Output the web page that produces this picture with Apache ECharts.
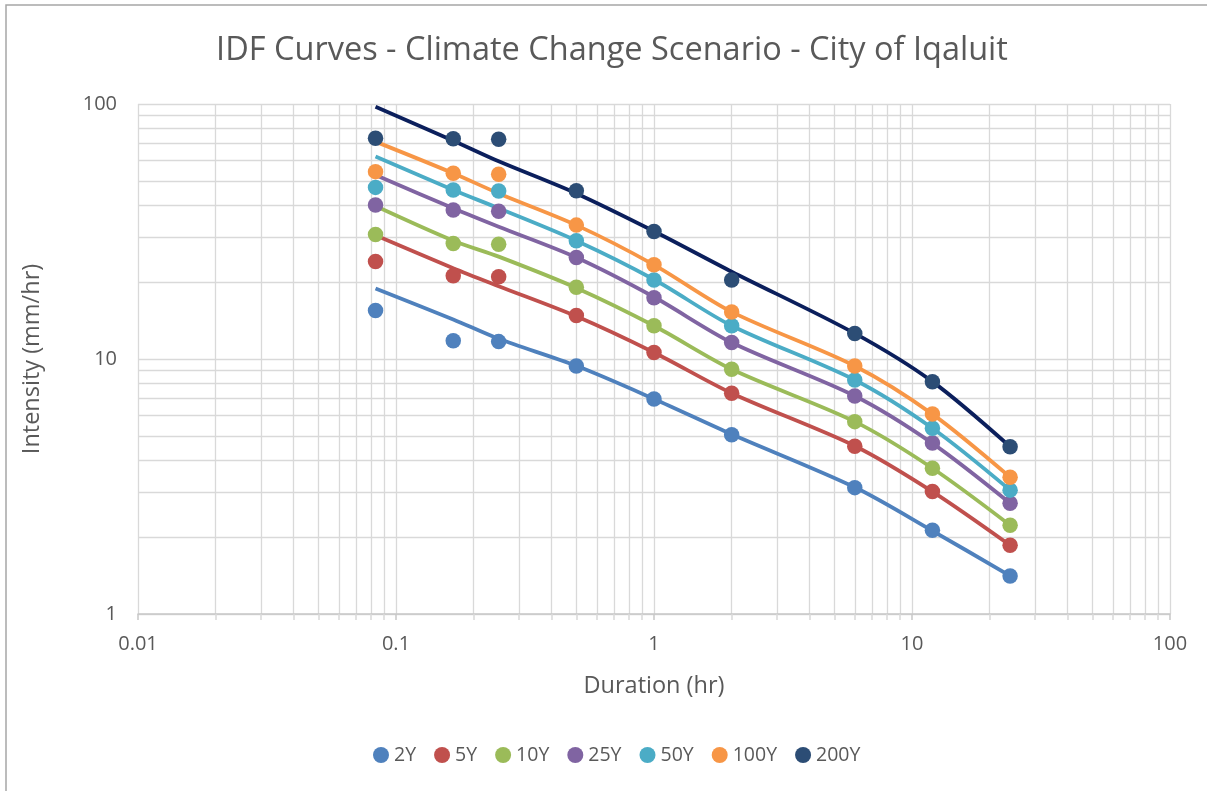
<!DOCTYPE html>
<html>
<head>
<meta charset="utf-8">
<script src="https://cdn.jsdelivr.net/npm/echarts@6/dist/echarts.min.js"></script>
<style>
html,body{margin:0;padding:0;background:#fff;}
#chart{width:1207px;height:791px;}
</style>
</head>
<body>
<div id="chart"></div>
<script>
// Durations (hr)
var durations = [0.0833, 0.1667, 0.25, 0.5, 1, 2, 6, 12, 24];
var seriesNames = ['2Y', '5Y', '10Y', '25Y', '50Y', '100Y', '200Y'];

// Observed intensities (mm/hr) - dots
var obs2Y   = [15.5, 11.8, 11.7, 9.39, 6.97, 5.05, 3.13, 2.13, 1.41];
var obs5Y   = [24.1, 21.2, 21.0, 14.8, 10.6, 7.34, 4.55, 3.02, 1.86];
var obs10Y  = [30.8, 28.4, 28.2, 19.1, 13.5, 9.11, 5.68, 3.73, 2.23];
var obs25Y  = [40.2, 38.4, 38.0, 25.0, 17.4, 11.6, 7.16, 4.68, 2.72];
var obs50Y  = [47.1, 46.0, 45.6, 29.1, 20.4, 13.5, 8.27, 5.35, 3.06];
var obs100Y = [54.3, 53.5, 53.0, 33.5, 23.4, 15.3, 9.39, 6.08, 3.44];
var obs200Y = [73.4, 73.0, 72.7, 45.7, 31.6, 20.4, 12.6, 8.15, 4.53];

// Fitted curves (mm/hr) - lines
var fit2Y   = [18.9, 14.3, 12.0, 9.40, 6.97, 5.07, 3.14, 2.12, 1.41];
var fit5Y   = [30.6, 22.7, 19.3, 14.7, 10.6, 7.34, 4.56, 3.02, 1.86];
var fit10Y  = [39.8, 29.1, 25.2, 19.0, 13.5, 9.11, 5.68, 3.73, 2.23];
var fit25Y  = [52.7, 39.0, 33.0, 25.0, 17.5, 11.6, 7.16, 4.67, 2.72];
var fit50Y  = [62.2, 46.0, 39.0, 29.1, 20.5, 13.5, 8.27, 5.35, 3.06];
var fit100Y = [71.2, 53.5, 44.6, 33.5, 23.4, 15.3, 9.39, 6.08, 3.44];
var fit200Y = [97.6, 71.8, 59.6, 44.6, 31.7, 22.0, 12.6, 8.15, 4.53];

var obsAll = [obs2Y, obs5Y, obs10Y, obs25Y, obs50Y, obs100Y, obs200Y];
var fitAll = [fit2Y, fit5Y, fit10Y, fit25Y, fit50Y, fit100Y, fit200Y];

var dotColors  = ['#4F81BD', '#C0504D', '#9BBB59', '#8064A2', '#4BACC6', '#F79646', '#2C4D75'];
var lineColors = ['#4F81BD', '#C0504D', '#9BBB59', '#8064A2', '#4BACC6', '#F79646', '#0B1F5C'];

function pairs(xs, ys) {
  return xs.map(function (x, i) { return [x, ys[i]]; });
}

var FONT = '"Open Sans", "Noto Sans", sans-serif';
var TXT = '#595959';
var GRIDC = '#D9D9D9';

var series = [];
for (var i = 0; i < seriesNames.length; i++) {
  series.push({
    name: seriesNames[i] + ' fit',
    type: 'line',
    data: pairs(durations, fitAll[i]),
    smooth: 0.3,
    showSymbol: false,
    symbol: 'none',
    lineStyle: { color: lineColors[i], width: 3.8 },
    itemStyle: { color: lineColors[i] },
    z: 2,
    silent: true
  });
}
for (var j = 0; j < seriesNames.length; j++) {
  series.push({
    name: seriesNames[j],
    type: 'scatter',
    data: pairs(durations, obsAll[j]),
    symbol: 'circle',
    symbolSize: 15.5,
    itemStyle: { color: dotColors[j], opacity: 1 },
    z: 3
  });
}

var chart = echarts.init(document.getElementById('chart'), null, { renderer: 'canvas' });
chart.setOption({
  animation: false,
  backgroundColor: '#fff',
  graphic: [{
    type: 'rect',
    shape: { x: 6, y: 5, width: 1400, height: 1000 },
    style: { fill: 'none', stroke: '#A6A6A6', lineWidth: 1.5 },
    silent: true
  }],
  title: {
    text: 'IDF Curves - Climate Change Scenario - City of Iqaluit',
    left: 607,
    textAlign: 'center',
    top: 29,
    textStyle: { fontFamily: FONT, fontSize: 32.5, fontWeight: 'normal', color: TXT }
  },
  legend: {
    data: seriesNames,
    bottom: 21,
    left: 368,
    icon: 'circle',
    itemWidth: 16,
    itemHeight: 16,
    itemGap: 18,
    textStyle: { fontFamily: FONT, fontSize: 19.5, color: TXT }
  },
  grid: { left: 138, right: 37, top: 104, bottom: 177, containLabel: false },
  xAxis: {
    type: 'log',
    logBase: 10,
    min: 0.01,
    max: 100,
    name: 'Duration (hr)',
    nameLocation: 'middle',
    nameGap: 60,
    nameTextStyle: { fontFamily: FONT, fontSize: 23.5, color: TXT },
    axisLine: { show: true, lineStyle: { color: '#C8C8C8', width: 1.5 } },
    axisTick: { show: true, length: 6, lineStyle: { color: '#C8C8C8', width: 1.5 } },
    minorTick: { show: true, splitNumber: 9, length: 6, lineStyle: { color: '#D9D9D9', width: 1.5 } },
    minorSplitLine: { show: true, lineStyle: { color: GRIDC, width: 1.3 } },
    splitLine: { show: true, lineStyle: { color: GRIDC, width: 1.3 } },
    axisLabel: {
      fontFamily: FONT, fontSize: 20, color: TXT, margin: 20,
      formatter: function (v) { return String(v); }
    }
  },
  yAxis: {
    type: 'log',
    logBase: 10,
    min: 1,
    max: 100,
    name: 'Intensity (mm/hr)',
    nameLocation: 'middle',
    nameGap: 94,
    nameRotate: 90,
    nameTextStyle: { fontFamily: FONT, fontSize: 23.5, color: TXT },
    axisLine: { show: false },
    axisTick: { show: false },
    minorTick: { show: false, splitNumber: 9 },
    minorSplitLine: { show: true, lineStyle: { color: GRIDC, width: 1.3 } },
    splitLine: { show: true, lineStyle: { color: GRIDC, width: 1.3 } },
    axisLabel: {
      fontFamily: FONT, fontSize: 20, color: TXT, margin: 21,
      formatter: function (v) { return String(v); }
    }
  },
  series: series
});
</script>
</body>
</html>
